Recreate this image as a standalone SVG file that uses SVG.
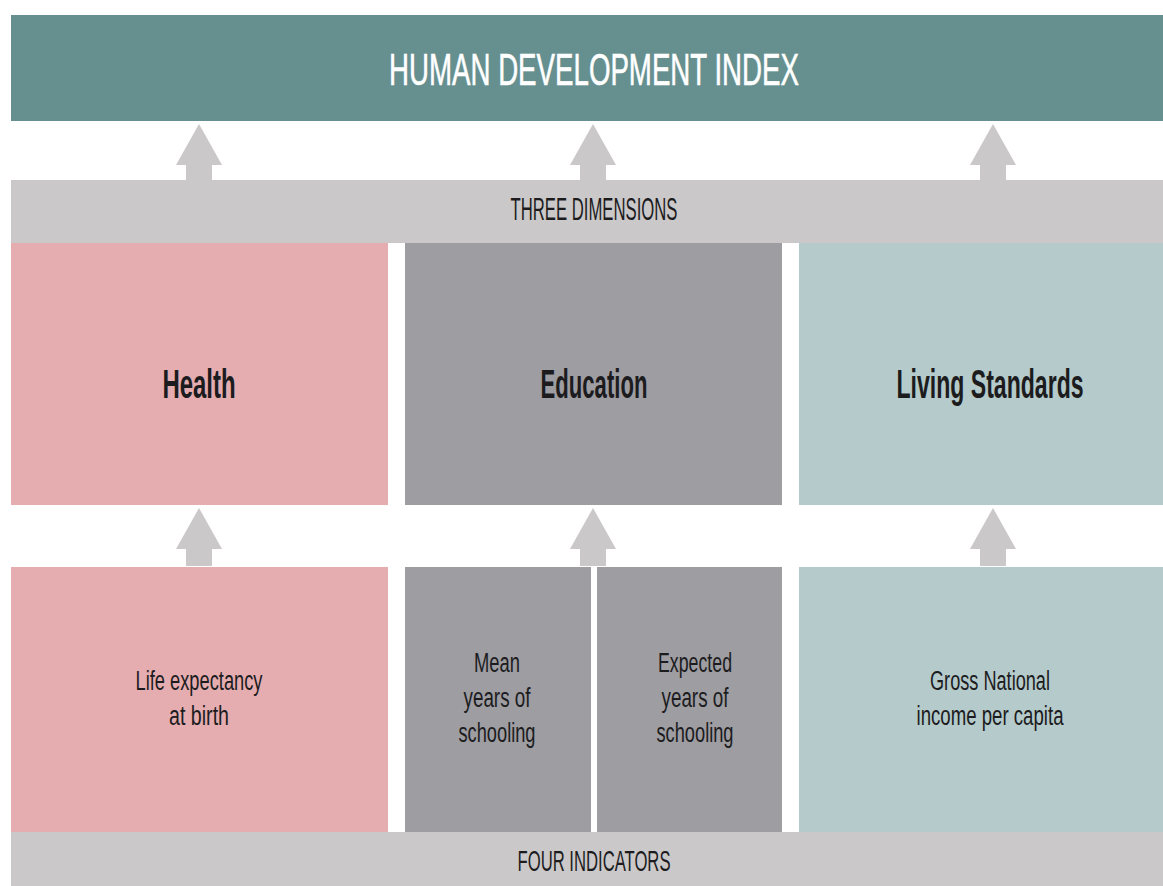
<svg xmlns="http://www.w3.org/2000/svg" width="1163" height="886" viewBox="0 0 1163 886">
<style>
.t{font-family:"Liberation Sans",Arial,sans-serif;fill:#1c1c1e;text-anchor:middle}
.ind{font-size:27px}
.dim{font-size:41px;font-weight:bold}
.band{fill:#cbc8c9}
.arrow{fill:#cbc8c9}
</style>
<defs>
<path id="arr" d="M0,0 L23,41 L13,41 L13,58 L-13,58 L-13,41 L-23,41 Z"/>
</defs>
<rect width="1163" height="886" fill="#ffffff"/>
<g id="connectors">
<use href="#arr" class="arrow" x="199" y="124"/>
<use href="#arr" class="arrow" x="593" y="124"/>
<use href="#arr" class="arrow" x="993" y="124"/>
<use href="#arr" class="arrow" x="199" y="508"/>
<use href="#arr" class="arrow" x="593" y="508"/>
<use href="#arr" class="arrow" x="993" y="508"/>
</g>
<g id="hdi">
<rect x="11" y="15" width="1152" height="106" fill="#669090"/>
<text x="594" y="85" font-family="Liberation Sans, Arial, sans-serif" font-size="44" fill="#ffffff" stroke="#ffffff" stroke-width="0.6" text-anchor="middle" textLength="410" lengthAdjust="spacingAndGlyphs">HUMAN DEVELOPMENT INDEX</text>
</g>
<g id="three-dimensions">
<rect class="band" x="11" y="180" width="1152" height="63"/>
<text class="t" x="594" y="220" font-size="32" textLength="167" lengthAdjust="spacingAndGlyphs">THREE DIMENSIONS</text>
</g>
<g id="health">
<rect x="11" y="243" width="377" height="262" fill="#e5adb0"/>
<text class="t dim" transform="translate(199,398) scale(0.6,1)" x="0" y="0" textLength="122" lengthAdjust="spacingAndGlyphs">Health</text>
</g>
<g id="education">
<rect x="405" y="243" width="377" height="262" fill="#9e9da2"/>
<text class="t dim" transform="translate(594,398) scale(0.6,1)" x="0" y="0" textLength="178" lengthAdjust="spacingAndGlyphs">Education</text>
</g>
<g id="living-standards">
<rect x="799" y="243" width="364" height="262" fill="#b5caca"/>
<text class="t dim" transform="translate(990,398) scale(0.6,1)" x="0" y="0" textLength="312" lengthAdjust="spacingAndGlyphs">Living Standards</text>
</g>
<g id="life-expectancy">
<rect x="11" y="567" width="377" height="265" fill="#e5adb0"/>
<text class="t ind" x="199" y="690" textLength="127" lengthAdjust="spacingAndGlyphs">Life expectancy</text>
<text class="t ind" x="199" y="725" textLength="60" lengthAdjust="spacingAndGlyphs">at birth</text>
</g>
<g id="mean-years">
<rect x="405" y="567" width="186" height="265" fill="#9e9da2"/>
<text class="t ind" x="497" y="672" textLength="46" lengthAdjust="spacingAndGlyphs">Mean</text>
<text class="t ind" x="497" y="707" textLength="67" lengthAdjust="spacingAndGlyphs">years of</text>
<text class="t ind" x="497" y="742" textLength="77" lengthAdjust="spacingAndGlyphs">schooling</text>
</g>
<g id="expected-years">
<rect x="597" y="567" width="185" height="265" fill="#9e9da2"/>
<text class="t ind" x="695" y="672" textLength="74" lengthAdjust="spacingAndGlyphs">Expected</text>
<text class="t ind" x="695" y="707" textLength="67" lengthAdjust="spacingAndGlyphs">years of</text>
<text class="t ind" x="695" y="742" textLength="77" lengthAdjust="spacingAndGlyphs">schooling</text>
</g>
<g id="gni">
<rect x="799" y="567" width="364" height="265" fill="#b5caca"/>
<text class="t ind" x="990" y="690" textLength="120" lengthAdjust="spacingAndGlyphs">Gross National</text>
<text class="t ind" x="990" y="725" textLength="147" lengthAdjust="spacingAndGlyphs">income per capita</text>
</g>
<g id="four-indicators">
<rect class="band" x="11" y="832" width="1152" height="54"/>
<text class="t" x="594" y="871" font-size="30" textLength="153" lengthAdjust="spacingAndGlyphs">FOUR INDICATORS</text>
</g>
</svg>
